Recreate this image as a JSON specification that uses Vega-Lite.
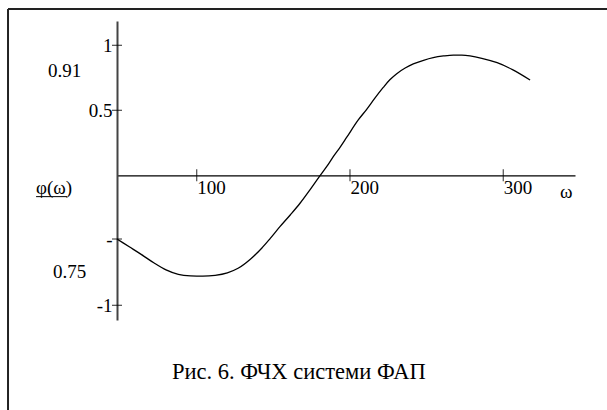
{
  "$schema": "https://vega.github.io/schema/vega-lite/v6.json",
  "width": 458,
  "height": 299,
  "autosize": {"type": "none"},
  "padding": {"left": 117, "top": 21, "right": 32, "bottom": 90},
  "background": "white",
  "config": {"view": {"stroke": null}},
  "datasets": {
    "curve": [
      {"w": 48, "phi": -0.49}, {"w": 56, "phi": -0.55}, {"w": 64, "phi": -0.61},
      {"w": 72, "phi": -0.673}, {"w": 80, "phi": -0.728}, {"w": 88, "phi": -0.762},
      {"w": 96, "phi": -0.773}, {"w": 104, "phi": -0.775}, {"w": 112, "phi": -0.769},
      {"w": 120, "phi": -0.75}, {"w": 127, "phi": -0.715}, {"w": 135, "phi": -0.645},
      {"w": 142.4, "phi": -0.561}, {"w": 148, "phi": -0.485}, {"w": 154.3, "phi": -0.395},
      {"w": 161, "phi": -0.305}, {"w": 167.4, "phi": -0.215}, {"w": 174, "phi": -0.11},
      {"w": 180, "phi": -0.01}, {"w": 185, "phi": 0.07}, {"w": 189.1, "phi": 0.143},
      {"w": 193.5, "phi": 0.215}, {"w": 197.8, "phi": 0.291}, {"w": 205.4, "phi": 0.426},
      {"w": 210.9, "phi": 0.508}, {"w": 216, "phi": 0.59}, {"w": 221.7, "phi": 0.676},
      {"w": 226, "phi": 0.735}, {"w": 230.5, "phi": 0.782}, {"w": 236, "phi": 0.825},
      {"w": 241.3, "phi": 0.857}, {"w": 248, "phi": 0.885}, {"w": 254.3, "phi": 0.905},
      {"w": 261, "phi": 0.918}, {"w": 267.4, "phi": 0.925}, {"w": 273, "phi": 0.924},
      {"w": 278.3, "phi": 0.918}, {"w": 286, "phi": 0.9}, {"w": 296, "phi": 0.866},
      {"w": 306, "phi": 0.813}, {"w": 317.5, "phi": 0.733}
    ],
    "xticks": [{"w": 100, "phi": 0}, {"w": 200, "phi": 0}, {"w": 300, "phi": 0}],
    "yticks": [{"w": 48, "phi": 1}, {"w": 48, "phi": 0.5}, {"w": 48, "phi": -0.49}, {"w": 48, "phi": -1}],
    "notes": [
      {"text": "0.91", "w": 3.0, "phi": 0.803},
      {"text": "0.75", "w": 6.3, "phi": -0.744},
      {"text": "φ(ω)", "w": -4.8, "phi": -0.094},
      {"text": "ω", "w": 337, "phi": -0.128}
    ],
    "caption": [{"text": "Рис. 6. ФЧХ системи ФАП", "w": 83.9, "phi": -1.513}],
    "border": [
      {"w": -23.1, "w2": 372, "phi": 1.2796, "phi2": 1.2796},
      {"w": -23.1, "w2": -23.1, "phi": 1.2796, "phi2": -1.9}
    ],
    "underline": [{"w": -4.8, "w2": 15.4, "phi": -0.164, "phi2": -0.164}]
  },
  "encoding": {
    "x": {"field": "w", "type": "quantitative",
      "scale": {"domain": [48, 346.8], "nice": false, "zero": false}},
    "y": {"field": "phi", "type": "quantitative",
      "scale": {"domain": [-1.113, 1.187], "nice": false, "zero": false}}
  },
  "layer": [
    {
      "data": {"name": "curve"},
      "mark": {"type": "line", "color": "black", "strokeWidth": 1.3, "interpolate": "monotone"},
      "encoding": {
        "x": {"field": "w", "type": "quantitative",
          "scale": {"domain": [48, 346.8], "nice": false, "zero": false},
          "axis": {"orient": "bottom", "offset": -144.7, "title": null, "values": [100, 200, 300],
            "ticks": false, "grid": false, "domainColor": "black", "domainWidth": 1.2,
            "labelAlign": "left", "labelBaseline": "top", "labelPadding": 3, "labelOffset": 0,
            "labelFont": "Liberation Serif", "labelFontSize": 19, "labelColor": "black"}},
        "y": {"field": "phi", "type": "quantitative",
          "scale": {"domain": [-1.113, 1.187], "nice": false, "zero": false},
          "axis": {"orient": "left", "title": null, "values": [1, 0.5, -0.49, -1],
            "labelExpr": "datum.value == 1 ? '1' : datum.value == 0.5 ? '0.5' : datum.value == -1 ? '-1' : '-'",
            "ticks": false, "grid": false, "domainColor": "#444", "domainWidth": 2,
            "labelAlign": "right", "labelBaseline": "middle", "labelPadding": 5,
            "labelFont": "Liberation Serif", "labelFontSize": 19, "labelColor": "black"}}
      }
    },
    {
      "data": {"name": "xticks"},
      "mark": {"type": "tick", "orient": "vertical", "color": "black", "size": 12, "thickness": 1.2}
    },
    {
      "data": {"name": "yticks"},
      "mark": {"type": "tick", "orient": "horizontal", "color": "black", "size": 10, "thickness": 1.2}
    },
    {
      "data": {"name": "notes"},
      "mark": {"type": "text", "align": "left", "baseline": "middle", "font": "Liberation Serif", "fontSize": 19, "color": "black"},
      "encoding": {"text": {"field": "text"}}
    },
    {
      "data": {"name": "caption"},
      "mark": {"type": "text", "align": "left", "baseline": "middle", "font": "Liberation Serif", "fontSize": 22.5, "color": "black"},
      "encoding": {"text": {"field": "text"}}
    },
    {
      "data": {"name": "border"},
      "mark": {"type": "rule", "color": "#222", "strokeWidth": 2},
      "encoding": {"x2": {"field": "w2"}, "y2": {"field": "phi2"}}
    },
    {
      "data": {"name": "underline"},
      "mark": {"type": "rule", "color": "black", "strokeWidth": 1},
      "encoding": {"x2": {"field": "w2"}, "y2": {"field": "phi2"}}
    }
  ]
}
